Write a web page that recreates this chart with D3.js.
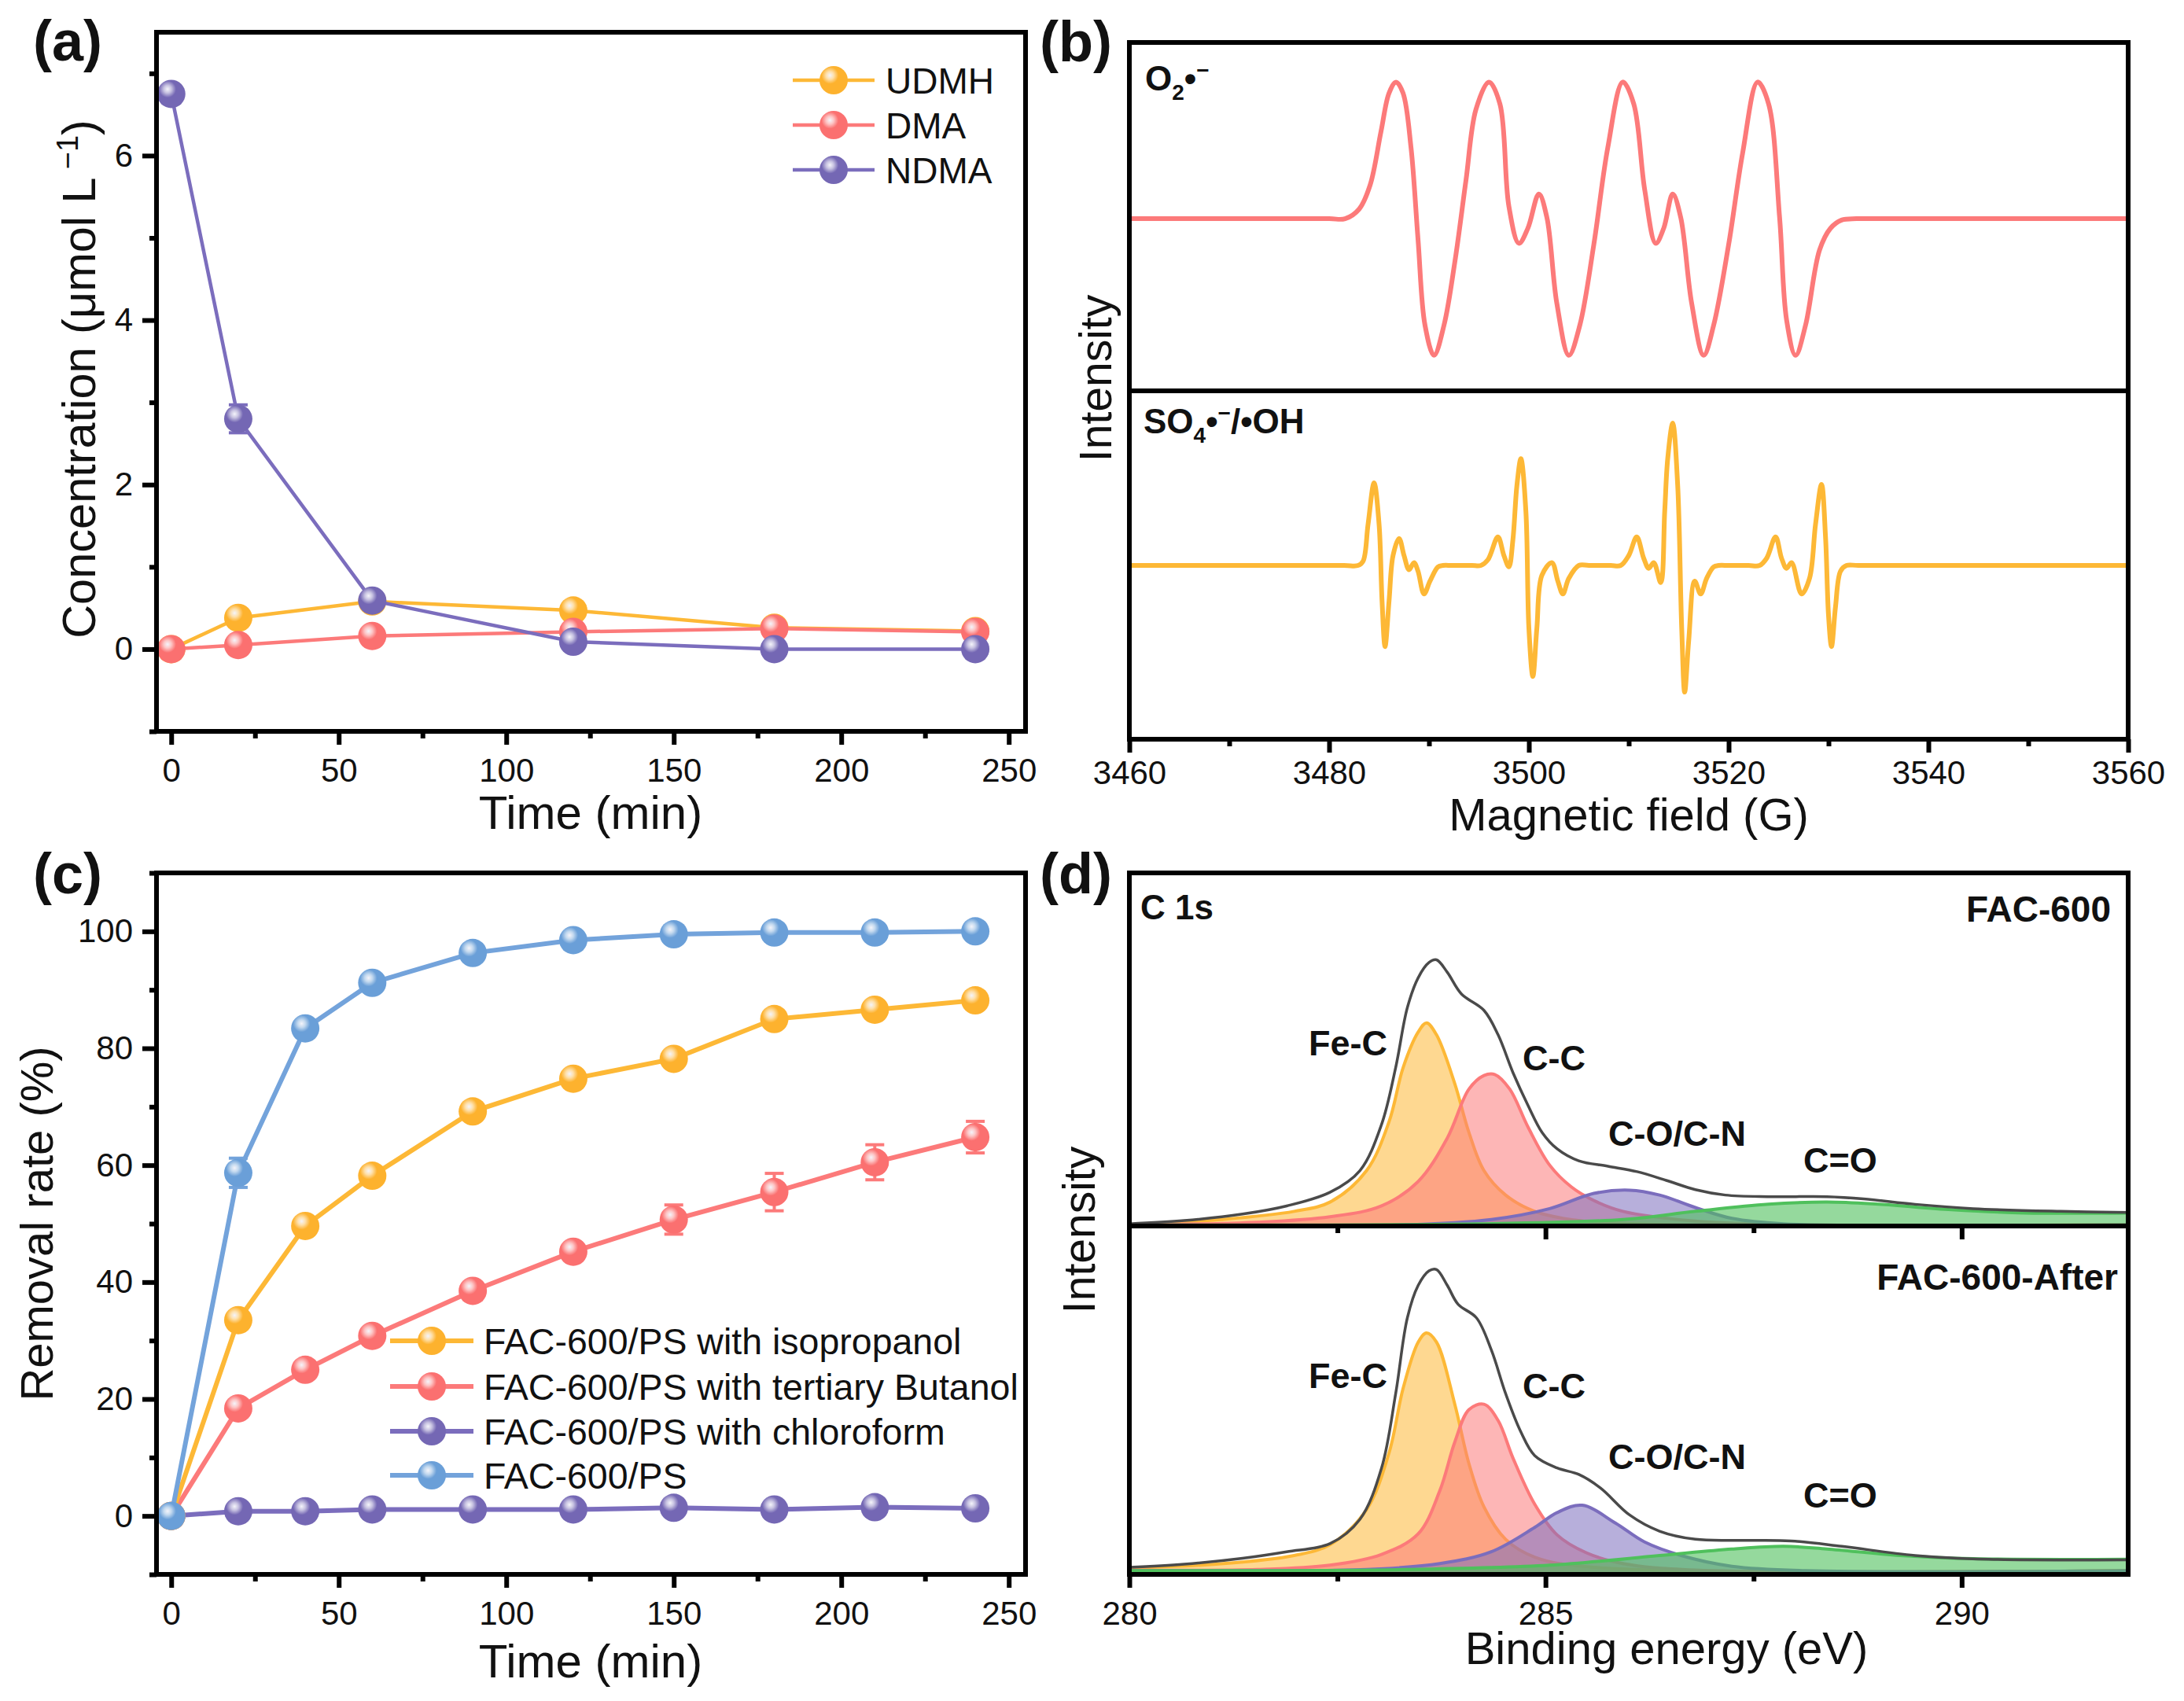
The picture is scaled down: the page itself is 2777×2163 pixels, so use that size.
<!DOCTYPE html>
<html>
<head>
<meta charset="utf-8">
<script src="https://cdn.jsdelivr.net/npm/d3@7"></script>
<style>
  body { margin: 0; background: #fff; }
  text { font-family: "Liberation Sans", Arial, sans-serif; fill: #111; }
</style>
</head>
<body>
<script>
// (a) concentration vs time
const timesA = [0, 20, 60, 120, 180, 240];
const udmh = [0, 0.38, 0.58, 0.47, 0.26, 0.22];
const dma = [0, 0.05, 0.16, 0.21, 0.25, 0.21];
const ndma = [6.75, 2.8, 0.59, 0.09, 0, 0];
const ndmaErr = [0.05, 0.17, 0.06, 0.04, 0.02, 0.02];
const namesA = ['UDMH', 'DMA', 'NDMA'];

// (b) EPR spectra, [field G, relative intensity]
const o2Spec = [[3460,0],[3470,0],[3480,0],[3481.6,0],[3483,.07],[3484.1,.245],[3485.2,.64],[3486,.92],[3486.7,1],[3487.4,.92],[3488.2,.52],[3488.9,-.15],[3489.6,-.78],[3490.5,-1],[3491.5,-.78],[3492.6,-.31],[3493.7,.28],[3494.7,.8],[3496,1],[3497.1,.84],[3498,.09],[3499,-.18],[3499.9,-.07],[3501,.18],[3501.8,.01],[3502.8,-.62],[3504,-1],[3505.1,-.78],[3506.5,-.19],[3507.9,.52],[3509.4,1],[3510.5,.84],[3511.6,.21],[3512.7,-.18],[3513.5,-.07],[3514.4,.18],[3515.2,.01],[3516.3,-.62],[3517.5,-1],[3518.5,-.78],[3520,-.19],[3521.4,.48],[3522.9,1],[3524,.84],[3525.1,.01],[3525.8,-.74],[3526.7,-1],[3527.7,-.78],[3529.1,-.23],[3530.2,-.07],[3531.3,-.01],[3532.8,0],[3534.5,0],[3545,0],[3560,0]];
const so4Spec = [[3460,0],[3470,0],[3481.5,0],[3482.9,0],[3483.4,.03],[3483.9,.29],[3484.5,.58],[3485,.29],[3485.3,-.25],[3485.6,-.57],[3486,-.25],[3486.4,.07],[3487,.19],[3487.5,.07],[3488,-.03],[3488.5,.02],[3488.9,-.04],[3489.5,-.2],[3490.1,-.11],[3490.9,-.01],[3491.4,0],[3492.3,0],[3494.3,0],[3495.2,0],[3495.9,.04],[3496.9,.2],[3497.5,.07],[3498,-.01],[3498.4,.18],[3498.8,.56],[3499.2,.75],[3499.7,.38],[3500,-.44],[3500.4,-.78],[3500.8,-.44],[3501.3,-.07],[3502.3,.02],[3502.9,-.11],[3503.4,-.2],[3504,-.09],[3505,0],[3506,0],[3508.2,0],[3509.2,0],[3510,.07],[3510.8,.2],[3511.5,.05],[3512,-.02],[3512.5,.02],[3513.2,-.12],[3513.6,.38],[3513.9,.75],[3514.4,1],[3514.9,.56],[3515.3,-.44],[3515.6,-.89],[3516,-.53],[3516.6,-.11],[3517.2,-.2],[3517.8,-.09],[3518.5,-.01],[3519,0],[3520,0],[3522,0],[3523.1,0],[3523.8,.05],[3524.7,.2],[3525.3,.05],[3525.8,-.02],[3526.3,.02],[3527.3,-.2],[3528.1,-.09],[3528.7,.29],[3529.3,.57],[3529.7,.2],[3530,-.35],[3530.3,-.57],[3530.7,-.29],[3531.2,-.04],[3531.8,0],[3533,0],[3545,0],[3560,0]];

// (c) removal rate vs time
const timesC = [0, 20, 40, 60, 90, 120, 150, 180, 210, 240];
const isoRate = [0, 33.5, 49.6, 58.2, 69.2, 74.8, 78.2, 85, 86.6, 88.2];
const tertRate = [0, 18.4, 25, 30.8, 38.5, 45.2, 50.7, 55.4, 60.5, 64.8];
const chloroRate = [0, 0.8, 0.8, 1.1, 1.1, 1.1, 1.4, 1.1, 1.5, 1.3];
const noneRate = [0, 58.7, 83.4, 91.2, 96.3, 98.5, 99.5, 99.8, 99.8, 100];
const isoErr = [0, 1, 0.8, 1, 1, 1, 1, 0.8, 0.8, 0.8];
const tertErr = [0, 1, 1, 1.2, 1.5, 1.5, 2.5, 3.2, 3, 2.7];
const chloroErr = [0, 0.3, 0.3, 0.3, 0.3, 0.3, 0.4, 0.3, 0.4, 0.3];
const noneErr = [0, 2.5, 1, 0.8, 0.6, 0.5, 0.4, 0.4, 0.3, 0.3];
const namesC = ['FAC-600/PS with isopropanol', 'FAC-600/PS with tertiary Butanol', 'FAC-600/PS with chloroform', 'FAC-600/PS'];

// (d) C 1s spectra, [binding energy eV, relative intensity]
const envTop = [[280,.004],[280.66,.016],[281.36,.04],[281.89,.07],[282.41,.12],[282.77,.2],[283.03,.37],[283.2,.58],[283.34,.8],[283.47,.91],[283.6,.966],[283.69,.976],[283.82,.93],[283.99,.85],[284.26,.79],[284.43,.7],[284.61,.56],[284.79,.44],[284.96,.34],[285.14,.28],[285.4,.236],[285.75,.216],[286.1,.196],[286.45,.164],[286.8,.13],[287.16,.11],[287.68,.104],[288.38,.104],[288.82,.096],[289.44,.076],[290.14,.06],[291.19,.05],[292,.046]];
const feTop = [[280,0],[281.1,.02],[281.98,.05],[282.41,.084],[282.85,.2],[283.12,.38],[283.29,.58],[283.47,.71],[283.57,.744],[283.69,.7],[283.91,.52],[284.08,.34],[284.26,.2],[284.52,.11],[284.87,.05],[285.4,.016],[286.37,.002],[292,0]];
const ccTop = [[280,0],[281.54,.01],[282.41,.03],[283.03,.07],[283.47,.16],[283.82,.32],[284.08,.5],[284.26,.55],[284.39,.554],[284.57,.5],[284.79,.36],[285.05,.22],[285.31,.14],[285.58,.09],[285.93,.05],[286.8,.014],[287.68,.002],[292,0]];
const coTop = [[280,0],[283.29,0],[284.35,.02],[285.05,.06],[285.58,.116],[286.01,.128],[286.37,.11],[286.8,.064],[287.24,.024],[287.86,.004],[292,0]];
const doTop = [[280,0],[284.17,.004],[285.93,.02],[286.8,.05],[287.68,.076],[288.38,.084],[289,.076],[289.88,.056],[290.76,.044],[292,.044]];
const envLow = [[280,.022],[280.66,.034],[281.36,.056],[281.89,.08],[282.41,.11],[282.77,.2],[283.03,.39],[283.2,.666],[283.34,.946],[283.47,1.066],[283.6,1.12],[283.69,1.125],[283.82,1.066],[283.95,.996],[284.17,.946],[284.35,.826],[284.52,.666],[284.7,.526],[284.87,.436],[285.14,.39],[285.4,.366],[285.66,.316],[286.01,.216],[286.37,.156],[286.8,.126],[287.33,.122],[287.95,.12],[288.56,.1],[289.44,.066],[290.32,.052],[292,.05]];
const feLow = [[280,.02],[281.1,.035],[281.98,.066],[282.41,.106],[282.85,.236],[283.12,.446],[283.29,.686],[283.47,.856],[283.57,.89],[283.69,.856],[283.91,.626],[284.08,.406],[284.26,.246],[284.52,.126],[284.87,.06],[285.58,.022],[292,.01]];
const ccLow = [[280,.012],[281.54,.014],[282.41,.03],[283.03,.07],[283.47,.146],[283.73,.306],[283.91,.486],[284.08,.606],[284.26,.626],[284.43,.566],[284.61,.426],[284.87,.256],[285.14,.142],[285.49,.076],[285.93,.036],[286.8,.012],[292,.01]];
const coLow = [[280,.01],[281.54,.01],[282.85,.014],[283.73,.036],[284.35,.08],[284.87,.17],[285.14,.225],[285.44,.252],[285.84,.186],[286.19,.116],[286.63,.066],[287.24,.026],[288.12,.01],[292,.01]];
const doLow = [[280,.01],[283.29,.014],[285.05,.03],[286.37,.066],[287.24,.09],[287.86,.1],[288.38,.09],[289.26,.066],[290.14,.054],[292,.052]];

const yellow = '#fdb836', red = '#fc7a7a', purple = '#7b6dbd', blue = '#73a3db', green = '#4fc05c', gray = '#4a4a4a';

const svg = d3.select('body').append('svg').attr('width', 2777).attr('height', 2163);
const defs = svg.append('defs');

// sphere marker gradients, small highlight up and to the left
const ballIds = {};
[[yellow, 'ballY', '#fdb22e'], [red, 'ballR', '#fb7070'], [purple, 'ballP', '#7467b4'], [blue, 'ballB', '#6a9fd8']].forEach(([key, id, col]) => {
    ballIds[key] = id;
    const g = defs.append('radialGradient').attr('id', id).attr('cx', 0.37).attr('cy', 0.33).attr('r', 0.3);
    g.append('stop').attr('offset', 0).attr('stop-color', '#f4f4fa');
    g.append('stop').attr('offset', 0.45).attr('stop-color', d3.interpolateRgb(col, '#fff')(0.6));
    g.append('stop').attr('offset', 1).attr('stop-color', col);
});

const left1 = 199, right1 = 1304, left2 = 1436, right2 = 2706;
const curve = d3.curveCatmullRom.alpha(0.5);

function axes(g, x, y, o) {
    const [x0, x1] = x.range(), [y0, y1] = y.range();
    if (o.xMajor) {
        g.append('g').attr('class', 'ax').attr('transform', `translate(0,${y0})`)
            .call(d3.axisBottom(x).tickValues(o.xMajor).tickSize(17).tickPadding(o.xPad === undefined ? 17 : o.xPad)
            .tickFormat(o.noXLabels ? '' : d3.format('d')));
        if (o.xMinor) {
            g.append('g').attr('class', 'ax').attr('transform', `translate(0,${y0})`)
                .call(d3.axisBottom(x).tickValues(o.xMinor).tickSize(9).tickFormat(''));
        }
    }
    if (o.yMajor) {
        g.append('g').attr('class', 'ax').attr('transform', `translate(${x0},0)`)
            .call(d3.axisLeft(y).tickValues(o.yMajor).tickSize(18).tickPadding(12).tickFormat(d3.format('d')));
        g.append('g').attr('class', 'ax').attr('transform', `translate(${x0},0)`)
            .call(d3.axisLeft(y).tickValues(o.yMinor).tickSize(9).tickFormat(''));
    }
    g.selectAll('.ax path').remove();
    g.selectAll('.ax line').attr('stroke', '#000').attr('stroke-width', 6);
    g.selectAll('.ax text').attr('font-size', 42).attr('fill', '#111');
    g.append('rect').attr('x', x0).attr('y', y1).attr('width', x1 - x0).attr('height', y0 - y1)
        .attr('fill', 'none').attr('stroke', '#000').attr('stroke-width', 6);
}

function scatter(g, x, y, times, vals, errs, col, lw, r) {
    const line = d3.line().x((d, i) => x(times[i])).y(d => y(d));
    g.append('path').datum(vals).attr('d', line).attr('fill', 'none').attr('stroke', col).attr('stroke-width', lw);
    const eb = g.append('g').attr('stroke', col).attr('stroke-width', 4);
    vals.forEach((v, i) => {
        const e = errs ? errs[i] : 0;
        if (!e) return;
        eb.append('line').attr('x1', x(times[i])).attr('x2', x(times[i])).attr('y1', y(v - e)).attr('y2', y(v + e));
        [v - e, v + e].forEach(k => eb.append('line').attr('x1', x(times[i]) - 12).attr('x2', x(times[i]) + 12).attr('y1', y(k)).attr('y2', y(k)));
    });
    g.selectAll(null).data(vals).enter().append('circle')
        .attr('cx', (d, i) => x(times[i])).attr('cy', d => y(d)).attr('r', r)
        .attr('fill', `url(#${ballIds[col]})`);
}

function legendRow(g, x0, x1, y, col, name, lw, r, tx, fs) {
    g.append('line').attr('x1', x0).attr('x2', x1).attr('y1', y).attr('y2', y).attr('stroke', col).attr('stroke-width', lw);
    g.append('circle').attr('cx', (x0 + x1) / 2).attr('cy', y).attr('r', r).attr('fill', `url(#${ballIds[col]})`);
    g.append('text').attr('x', tx).attr('y', y + fs * 0.36).attr('font-size', fs).text(name);
}

function title(x, y, str, size, rotate) {
    return svg.append('text').attr('text-anchor', 'middle').attr('font-size', size)
        .attr('transform', `translate(${x},${y})` + (rotate ? ' rotate(-90)' : '')).text(str);
}

function note(x, y, str, anchor, size) {
    return svg.append('text').attr('x', x).attr('y', y).attr('font-size', size || 44).attr('font-weight', 'bold')
        .attr('text-anchor', anchor || 'start').text(str);
}

// Panel a
{
    const g = svg.append('g');
    const x = d3.scaleLinear().domain([-4.4, 255]).range([left1, right1]);
    const y = d3.scaleLinear().domain([-1, 7.5]).range([930, 41]);
    scatter(g, x, y, timesA, udmh, null, yellow, 4.5, 18);
    scatter(g, x, y, timesA, dma, null, red, 4.5, 18);
    scatter(g, x, y, timesA, ndma, ndmaErr, purple, 4.5, 18);
    axes(g, x, y, {
        xMajor: [0, 50, 100, 150, 200, 250], xMinor: [25, 75, 125, 175, 225],
        yMajor: [0, 2, 4, 6], yMinor: [-1, 1, 3, 5, 7]
    });
    [yellow, red, purple].forEach((c, i) => legendRow(g, 1008, 1112, [102, 159, 216][i], c, namesA[i], 4.5, 18, 1126, 46));
    const t = title(121, 482, 'Concentration (μmol L', 59.5, true);
    t.append('tspan').attr('font-size', 38).attr('dx', 10).attr('dy', -22).text('−1');
    t.append('tspan').attr('dy', 22).text(')');
    title(751, 1054, 'Time (min)', 60);
}

// Panel b
{
    const g = svg.append('g');
    const x = d3.scaleLinear().domain([3460, 3560]).range([left2, right2]);
    const yTop = d3.scaleLinear().domain([-1.26, 1.29]).range([497, 54]);
    const yLow = d3.scaleLinear().domain([-1.221, 1.227]).range([940, 497]);
    g.append('path').datum(o2Spec).attr('fill', 'none').attr('stroke', red).attr('stroke-width', 6)
        .attr('d', d3.line().x(d => x(d[0])).y(d => yTop(d[1])).curve(curve));
    g.append('path').datum(so4Spec).attr('fill', 'none').attr('stroke', yellow).attr('stroke-width', 6)
        .attr('d', d3.line().x(d => x(d[0])).y(d => yLow(d[1])).curve(curve));
    axes(g, x, yLow, { xMajor: [3460, 3480, 3500, 3520, 3540, 3560], xMinor: [3470, 3490, 3510, 3530, 3550], xPad: 10 });
    axes(g, x, yTop, {});
    title(1413, 481, 'Intensity', 57, true);
    title(2071, 1056, 'Magnetic field (G)', 58);
    const a = note(1456, 115, 'O', 'start', 44);
    a.append('tspan').attr('font-size', 28).attr('dy', 12).text('2');
    a.append('tspan').attr('dy', -12).text('•');
    a.append('tspan').attr('font-size', 28).attr('dy', -16).text('−');
    const b = note(1454, 551, 'SO', 'start', 44);
    b.append('tspan').attr('font-size', 28).attr('dy', 12).text('4');
    b.append('tspan').attr('dy', -12).text('•');
    b.append('tspan').attr('font-size', 28).attr('dy', -16).text('−');
    b.append('tspan').attr('dy', 16).text('/•OH');
}

// Panel c
{
    const g = svg.append('g');
    const x = d3.scaleLinear().domain([-4.4, 255]).range([left1, right1]);
    const y = d3.scaleLinear().domain([-10, 110]).range([2002, 1110]);
    scatter(g, x, y, timesC, chloroRate, chloroErr, purple, 6, 18);
    scatter(g, x, y, timesC, tertRate, tertErr, red, 6, 18);
    scatter(g, x, y, timesC, isoRate, isoErr, yellow, 6, 18);
    scatter(g, x, y, timesC, noneRate, noneErr, blue, 6, 18);
    axes(g, x, y, {
        xMajor: [0, 50, 100, 150, 200, 250], xMinor: [25, 75, 125, 175, 225],
        yMajor: [0, 20, 40, 60, 80, 100], yMinor: [-10, 10, 30, 50, 70, 90, 110]
    });
    [yellow, red, purple, blue].forEach((c, i) => legendRow(g, 496, 602, [1705, 1763, 1820, 1876][i], c, namesC[i], 6, 18, 615, 46.5));
    title(67, 1556, 'Removal rate (%)', 58, true);
    title(751, 2133, 'Time (min)', 60);
}

// Panel d
function xpsPanel(y, lines) {
    const g = svg.append('g');
    const x = d3.scaleLinear().domain([280, 292]).range([left2, right2]);
    const area = d3.area().x(d => x(d[0])).y0(y(0)).y1(d => y(d[1])).curve(curve);
    const line = d3.line().x(d => x(d[0])).y(d => y(d[1])).curve(curve);
    lines.forEach(([data, col]) => {
        g.append('path').datum(data).attr('d', area).attr('fill', col).attr('fill-opacity', col === green ? 0.6 : 0.55);
        g.append('path').datum(data).attr('d', line).attr('fill', 'none').attr('stroke', col).attr('stroke-width', 4);
    });
    return [g, x, line];
}
{
    const yTop = d3.scaleLinear().domain([-0.004, 1.296]).range([1559, 1110]);
    const yLow = d3.scaleLinear().domain([-0.004, 1.286]).range([2002, 1559]);
    const [gt, xt, lt] = xpsPanel(yTop, [[feTop, yellow], [ccTop, red], [coTop, purple], [doTop, green]]);
    gt.append('path').datum(envTop).attr('d', lt).attr('fill', 'none').attr('stroke', gray).attr('stroke-width', 3.5);
    axes(gt, xt, yTop, { xMajor: [285, 290], xMinor: [282.5, 287.5], noXLabels: true });
    const [gl, xl, ll] = xpsPanel(yLow, [[feLow, yellow], [ccLow, red], [coLow, purple], [doLow, green]]);
    gl.append('path').datum(envLow).attr('d', ll).attr('fill', 'none').attr('stroke', gray).attr('stroke-width', 3.5);
    axes(gl, xl, yLow, { xMajor: [280, 285, 290], xMinor: [282.5, 287.5] });

    title(1392, 1564, 'Intensity', 57, true);
    title(2119, 2116, 'Binding energy (eV)', 58);
    note(1450, 1169, 'C 1s');
    note(2684, 1172, 'FAC-600', 'end', 46);
    note(2693, 1640, 'FAC-600-After', 'end', 46);
    [[1664, 1342, 'Fe-C'], [1936, 1361, 'C-C'], [2045, 1457, 'C-O/C-N'], [2293, 1491, 'C=O'],
     [1664, 1765, 'Fe-C'], [1936, 1778, 'C-C'], [2045, 1868, 'C-O/C-N'], [2293, 1917, 'C=O']]
        .forEach(([px, py, s]) => note(px, py, s, 'start', 45));
}

// panel letters
[[42, 77, '(a)'], [1322, 78, '(b)'], [42, 1136, '(c)'], [1322, 1136, '(d)']].forEach(([px, py, s]) => note(px, py, s, 'start', 72));
</script>
</body>
</html>
